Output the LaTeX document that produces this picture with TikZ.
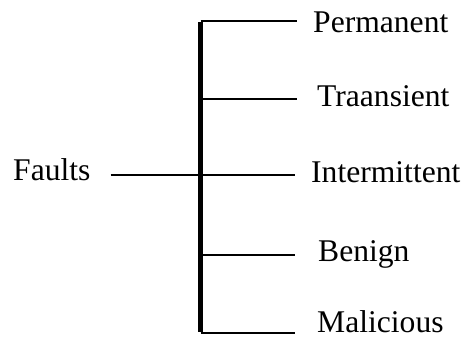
\documentclass[tikz,border=0pt]{standalone}
\usepackage{fontspec}
\setmainfont{Liberation Serif}
\begin{document}
\begin{tikzpicture}[x=1pt,y=-1pt,
  lbl/.style={anchor=base west,inner sep=0pt,font=\rmfamily\fontsize{31.6}{38}\selectfont},
  thinline/.style={line width=1.5pt},
  bar/.style={line width=4.5pt}]
\useasboundingbox (0,0) rectangle (464,338);
% labels
\node[lbl] (faults) at (13,180) {Faults};
\node[lbl] (perm) at (313,32) {Permanent};
\node[lbl] (tran) at (317,106) {Traansient};
\node[lbl] (inter) at (311,182) {Intermittent};
\node[lbl] (ben) at (318,261) {Benign};
\node[lbl] (mal) at (317,332) {Malicious};
% junctions and ends
\coordinate (jtop) at (200.5,21);
\coordinate (j2) at (200.5,99);
\coordinate (j3) at (200.5,175);
\coordinate (j4) at (200.5,255);
\coordinate (jbot) at (200.5,333);
\coordinate (e1) at (297,21);
\coordinate (e2) at (297,99);
\coordinate (e3) at (295,175);
\coordinate (e4) at (295,255);
\coordinate (e5) at (295,333);
\coordinate (fs) at (110.5,175);
% connectors
\draw[thinline] (jtop) -- (e1);
\draw[thinline] (j2) -- (e2);
\draw[thinline] (fs) -- (j3) -- (e3);
\draw[thinline] (j4) -- (e4);
\draw[thinline] (jbot) -- (e5);
\draw[bar] ([yshift=-0.75pt]jtop) -- ([yshift=0.75pt]jbot);
\end{tikzpicture}
\end{document}
